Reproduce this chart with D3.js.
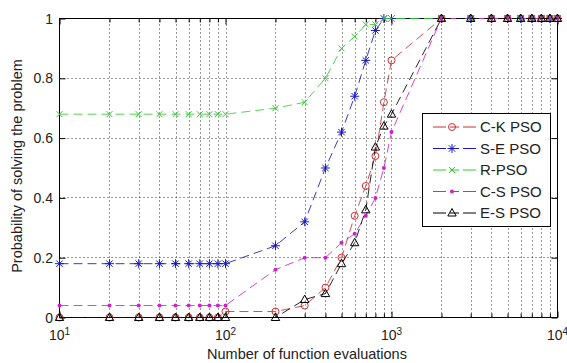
<!DOCTYPE html>
<html><head><meta charset="utf-8">
<script src="https://cdn.jsdelivr.net/npm/d3@7/dist/d3.min.js"></script>
<style>body{margin:0;background:#fff} text{font-family:"Liberation Sans",Arial,sans-serif;fill:#222}</style>
</head><body><svg id="c" width="567" height="363"></svg>
<script>
// ---- data ----
const evals = [10,20,30,40,50,60,70,80,90,100,200,300,400,500,600,700,800,900,1000,2000,3000,4000,5000,6000,7000,8000,9000,10000];
const ckPSO = [0,0,0,0,0,0,0,0,0,0.02,0.02,0.04,0.10,0.20,0.34,0.44,0.54,0.72,0.86,1,1,1,1,1,1,1,1,1];
const sePSO = [0.18,0.18,0.18,0.18,0.18,0.18,0.18,0.18,0.18,0.18,0.24,0.32,0.50,0.62,0.74,0.86,0.96,1,1,1,1,1,1,1,1,1,1,1];
const rPSO  = [0.68,0.68,0.68,0.68,0.68,0.68,0.68,0.68,0.68,0.68,0.70,0.72,0.80,0.90,0.94,0.98,0.98,1,1,1,1,1,1,1,1,1,1,1];
const csPSO = [0.04,0.04,0.04,0.04,0.04,0.04,0.04,0.04,0.04,0.04,0.16,0.20,0.20,0.25,0.28,0.34,0.40,0.50,0.62,1,1,1,1,1,1,1,1,1];
const esPSO = [0,0,0,0,0,0,0,0,0,0,0,0.06,0.08,0.18,0.25,0.36,0.57,0.64,0.68,1,1,1,1,1,1,1,1,1];
const seriesNames = ["C-K PSO","S-E PSO","R-PSO","C-S PSO","E-S PSO"];
const yTicks = [0,0.2,0.4,0.6,0.8,1];
const yTickLabels = ["0","0.2","0.4","0.6","0.8","1"];
const xMajor = [10,100,1000,10000];
const xMajorExp = ["1","2","3","4"];
const xMinor = [20,30,40,50,60,70,80,90,200,300,400,500,600,700,800,900,2000,3000,4000,5000,6000,7000,8000,9000];
const xLabel = "Number of function evaluations";
const yLabel = "Probability of solving the problem";

const series = [
  {name: seriesNames[0], values: ckPSO, color: "#cc3030", marker: "circle"},
  {name: seriesNames[1], values: sePSO, color: "#1818c8", marker: "star"},
  {name: seriesNames[2], values: rPSO,  color: "#33cc33", marker: "x"},
  {name: seriesNames[3], values: csPSO, color: "#cc22cc", marker: "dot"},
  {name: seriesNames[4], values: esPSO, color: "#000000", marker: "tri"}
];

const svg = d3.select("#c");
const x = d3.scaleLog().domain([10, 10000]).range([59.5, 557.5]);
const y = d3.scaleLinear().domain([0, 1]).range([317.5, 18.5]);
const [x0, x1] = x.range(), [y0, y1] = y.range();

// grid
const grid = svg.append("g").attr("stroke", "#333").attr("stroke-width", 1).attr("stroke-dasharray", "1,3");
grid.selectAll("line.v").data(xMinor.concat([100, 1000])).join("line")
  .attr("x1", d => Math.round(x(d)) + 0.5).attr("x2", d => Math.round(x(d)) + 0.5)
  .attr("y1", y0).attr("y2", y1);
grid.selectAll("line.h").data(yTicks.slice(1, -1)).join("line")
  .attr("y1", d => Math.round(y(d) - 0.5) + 0.5).attr("y2", d => Math.round(y(d) - 0.5) + 0.5)
  .attr("x1", x0).attr("x2", x1);

// axes (inward ticks on four sides)
function styleAxis(g) { g.select(".domain").remove(); g.selectAll("line").attr("stroke", "#000"); g.selectAll("text").remove(); }
svg.append("g").attr("transform", `translate(0,${y0})`).call(d3.axisBottom(x).tickValues(xMajor).tickSize(-6).tickFormat("")).call(styleAxis);
svg.append("g").attr("transform", `translate(0,${y0})`).call(d3.axisBottom(x).tickValues(xMinor).tickSize(-4).tickFormat("")).call(styleAxis);
svg.append("g").attr("transform", `translate(0,${y1})`).call(d3.axisTop(x).tickValues(xMajor).tickSize(-6).tickFormat("")).call(styleAxis);
svg.append("g").attr("transform", `translate(0,${y1})`).call(d3.axisTop(x).tickValues(xMinor).tickSize(-4).tickFormat("")).call(styleAxis);
svg.append("g").attr("transform", `translate(${x0},0)`).call(d3.axisLeft(y).tickValues(yTicks).tickSize(-6).tickFormat("")).call(styleAxis);
svg.append("g").attr("transform", `translate(${x1},0)`).call(d3.axisRight(y).tickValues(yTicks).tickSize(-6).tickFormat("")).call(styleAxis);
svg.append("rect").attr("x", x0).attr("y", y1).attr("width", x1 - x0).attr("height", y0 - y1)
  .attr("fill", "none").attr("stroke", "#000");

// tick labels
svg.append("g").selectAll("text").data(yTicks).join("text")
  .attr("x", 53).attr("y", d => y(d)).attr("dy", "0.36em").attr("text-anchor", "end")
  .attr("font-size", 14).text((d, i) => yTickLabels[i]);
const xl = svg.append("g").selectAll("text").data(xMajor).join("text")
  .attr("x", d => x(d)).attr("y", 340).attr("text-anchor", "middle").attr("font-size", 14);
xl.append("tspan").text("10");
xl.append("tspan").attr("font-size", 10).attr("dy", -5).text((d, i) => xMajorExp[i]);

// axis labels
svg.append("text").attr("x", 307).attr("y", 359).attr("text-anchor", "middle").attr("font-size", 14.5).text(xLabel);
svg.append("text").attr("transform", "translate(22,166) rotate(-90)").attr("text-anchor", "middle").attr("font-size", 14.5).text(yLabel);

// markers
function drawMarker(g, type, color) {
  if (type === "circle") g.append("circle").attr("r", 3.5).attr("fill", "none").attr("stroke", color);
  else if (type === "dot") g.append("circle").attr("r", 2).attr("fill", color);
  else if (type === "star") g.append("path").attr("d", "M-4.5,0H4.5M0,-4.5V4.5M-3.2,-3.2L3.2,3.2M-3.2,3.2L3.2,-3.2").attr("stroke", color).attr("fill", "none");
  else if (type === "x") g.append("path").attr("d", "M-3,-3L3,3M-3,3L3,-3").attr("stroke", color).attr("fill", "none");
  else if (type === "tri") g.append("path").attr("d", "M0,-4.5L4.2,3L-4.2,3Z").attr("stroke", color).attr("fill", "none");
}

const line = d3.line().x(d => x(d[0])).y(d => y(d[1]));
series.forEach(s => {
  const pts = evals.map((e, i) => [e, s.values[i]]);
  svg.append("path").datum(pts).attr("d", line).attr("fill", "none")
    .attr("stroke", s.color).attr("stroke-width", 1).attr("stroke-dasharray", "9,5").attr("opacity", 0.85);
  svg.append("g").selectAll("g").data(pts).join("g")
    .attr("transform", d => `translate(${x(d[0])},${y(d[1])})`)
    .each(function () { drawMarker(d3.select(this), s.marker, s.color); });
});

// legend
const lg = svg.append("g");
lg.append("rect").attr("x", 422.5).attr("y", 113.5).attr("width", 128).attr("height", 113)
  .attr("fill", "#fff").attr("stroke", "#000");
series.forEach((s, i) => {
  const ry = 127 + i * 21.5;
  lg.append("line").attr("x1", 433).attr("x2", 477).attr("y1", ry).attr("y2", ry)
    .attr("stroke", s.color).attr("stroke-dasharray", "13,4,9,4");
  drawMarker(lg.append("g").attr("transform", `translate(452,${ry})`), s.marker, s.color);
  lg.append("text").attr("x", 480).attr("y", ry).attr("dy", "0.36em").attr("font-size", 15).text(s.name);
});
</script></body></html>
